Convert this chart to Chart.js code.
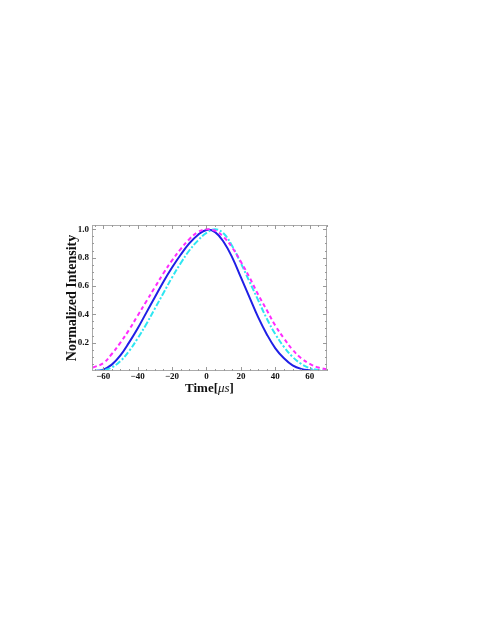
<!doctype html>
<html>
<head>
<meta charset="utf-8">
<title>Normalized Intensity</title>
<style>
  body { margin: 0; background: #fff; }
  canvas { display: block; }
</style>
</head>
<body>
<canvas id="myChart" width="478" height="618"></canvas>
<script src="https://cdn.jsdelivr.net/npm/chart.js@4.4.1/dist/chart.umd.min.js"></script>
<script>
  // sample times (us) and the three pulse shapes
  const times   = [-66, -60, -55, -50, -45, -40, -35, -30, -25, -20, -15, -10, -5, 0, 5, 10, 15, 20, 25, 30, 35, 40, 45, 50, 55, 60, 65, 70];
  const solid   = [0.0, 0.01, 0.045, 0.11, 0.2, 0.3, 0.41, 0.52, 0.63, 0.73, 0.82, 0.9, 0.96, 0.995, 0.98, 0.91, 0.8, 0.66, 0.52, 0.38, 0.26, 0.16, 0.09, 0.04, 0.015, 0.005, 0.0, 0.0];
  const dashed  = [0.025, 0.055, 0.12, 0.2, 0.29, 0.39, 0.49, 0.59, 0.69, 0.78, 0.86, 0.93, 0.98, 1.0, 0.99, 0.945, 0.87, 0.77, 0.66, 0.54, 0.43, 0.32, 0.23, 0.15, 0.09, 0.05, 0.025, 0.012];
  const dotdash = [0.0, 0.005, 0.025, 0.07, 0.14, 0.23, 0.33, 0.44, 0.55, 0.66, 0.76, 0.85, 0.92, 0.975, 1.0, 0.97, 0.88, 0.76, 0.63, 0.5, 0.37, 0.26, 0.17, 0.1, 0.05, 0.02, 0.007, 0.002];
  const xTicks  = [-60, -40, -20, 0, 20, 40, 60];
  const yTicks  = [0.2, 0.4, 0.6, 0.8, 1.0];

  const pts = arr => times.map((t, i) => ({x: t, y: arr[i]}));
  const serif = "'Liberation Serif', 'DejaVu Serif', serif";

  // inward frame ticks, Mathematica style
  const frameTicks = {
    id: 'frameTicks',
    afterDraw(chart) {
      const c = chart.ctx, a = chart.chartArea;
      const xs = chart.scales.x, ys = chart.scales.y;
      c.save();
      c.strokeStyle = '#aaa';
      c.lineWidth = 1;
      c.strokeRect(a.left + 0.5, a.top + 0.5, a.right - a.left - 1, a.bottom - a.top - 1);
      c.strokeStyle = '#999';
      for (let v = -65; v <= 70; v += 5) {
        const px = Math.round(xs.getPixelForValue(v)) + 0.5;
        const len = xTicks.includes(v) ? 4 : 2;
        c.beginPath();
        c.moveTo(px, a.bottom); c.lineTo(px, a.bottom - len);
        c.moveTo(px, a.top); c.lineTo(px, a.top + len);
        c.stroke();
      }
      for (let k = 1; k <= 20; k++) {
        const v = k * 0.05;
        const py = Math.round(ys.getPixelForValue(v)) + 0.5;
        const len = (k % 4 === 0) ? 4 : 2;
        c.beginPath();
        c.moveTo(a.left, py); c.lineTo(a.left + len, py);
        c.moveTo(a.right, py); c.lineTo(a.right - len, py);
        c.stroke();
      }
      c.restore();
    }
  };

  // x title with italic unit: "Time[" + "μs" + "]"
  const xTitle = {
    id: 'xTitle',
    afterDraw(chart) {
      const c = chart.ctx, a = chart.chartArea, xs = chart.scales.x;
      const parts = [
        ['Time[', 'bold 13px ' + serif],
        ['\u03bcs', 'italic 13px ' + serif],
        [']', 'bold 13px ' + serif]
      ];
      c.save();
      c.fillStyle = '#111';
      c.textBaseline = 'middle';
      let w = 0;
      parts.forEach(p => { c.font = p[1]; w += c.measureText(p[0]).width; });
      let x = (a.left + a.right) / 2 - w / 2;
      const y = xs.bottom - 8;
      parts.forEach(p => {
        c.font = p[1];
        c.fillText(p[0], x, y);
        x += c.measureText(p[0]).width;
      });
      c.restore();
    }
  };

  const ctx = document.getElementById('myChart');
  const myChart = new Chart(ctx, {
    type: 'line',
    data: {
      datasets: [
        {
          data: pts(dashed),
          borderColor: '#ff2bff',
          borderWidth: 2,
          borderDash: [4, 3],
          pointRadius: 0,
          tension: 0.4,
          fill: false
        },
        {
          data: pts(dotdash),
          borderColor: '#2ee6f2',
          borderWidth: 2,
          borderDash: [6, 2, 2, 2],
          pointRadius: 0,
          tension: 0.4,
          fill: false
        },
        {
          data: pts(solid),
          borderColor: '#1f1fe6',
          borderWidth: 2,
          pointRadius: 0,
          tension: 0.4,
          fill: false
        }
      ]
    },
    options: {
      responsive: false,
      animation: false,
      layout: { padding: { left: 64, right: 151, top: 225, bottom: 221 } },
      plugins: { legend: { display: false }, tooltip: { enabled: false } },
      scales: {
        x: {
          type: 'linear',
          min: -66.5,
          max: 70,
          border: { display: false },
          grid: { display: false, drawTicks: false, tickLength: 0 },
          afterBuildTicks: s => { s.ticks = xTicks.map(v => ({value: v})); },
          afterFit: s => { s.height = 26; },
          ticks: {
            padding: 0,
            color: '#111',
            maxRotation: 0,
            font: { family: serif, size: 9, weight: 'bold' },
            callback: v => (v < 0 ? '\u2212' + Math.abs(v) : '' + v)
          },
          title: { display: false }
        },
        y: {
          min: 0,
          max: 1.03,
          border: { display: false },
          grid: { display: false, drawTicks: false, tickLength: 0 },
          afterBuildTicks: s => { s.ticks = yTicks.map(v => ({value: v})); },
          afterFit: s => { s.width = 28; },
          ticks: {
            padding: 3,
            color: '#111',
            font: { family: serif, size: 9, weight: 'bold' },
            callback: v => v.toFixed(1)
          },
          title: {
            display: true,
            text: 'Normalized Intensity',
            color: '#111',
            padding: 0,
            font: { family: serif, size: 14, weight: 'bold' }
          }
        }
      }
    },
    plugins: [frameTicks, xTitle]
  });
</script>
</body>
</html>
